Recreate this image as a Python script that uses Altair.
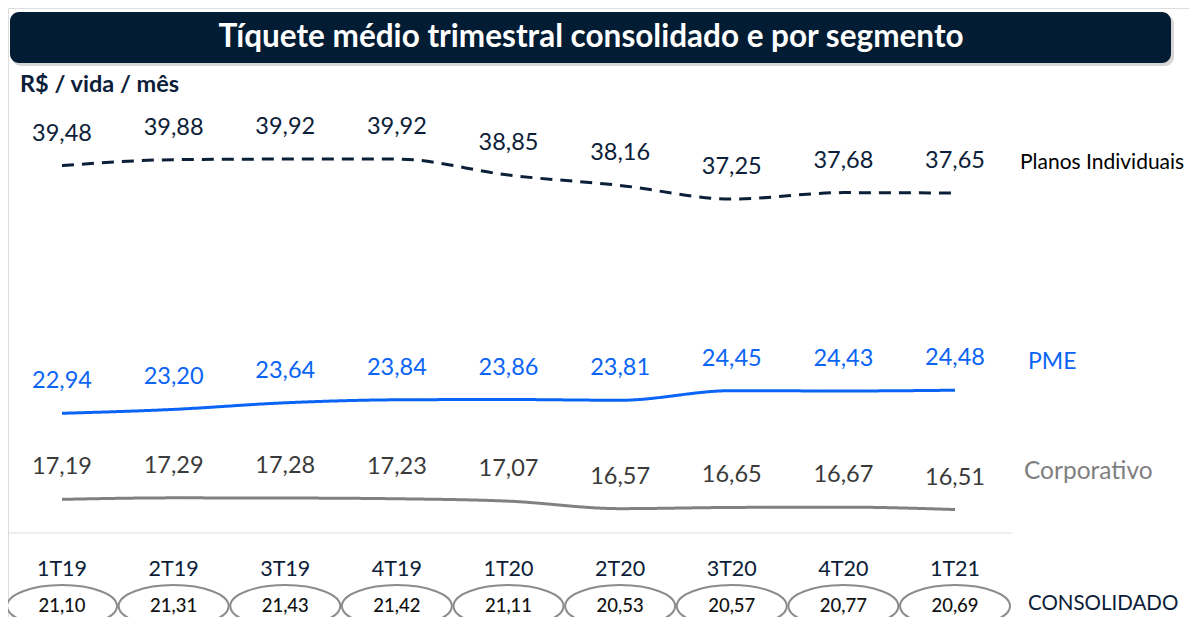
import altair as alt
import pandas as pd

quarters = ["1T19", "2T19", "3T19", "4T19", "1T20", "2T20", "3T20", "4T20", "1T21"]
planos = [39.48, 39.88, 39.92, 39.92, 38.85, 38.16, 37.25, 37.68, 37.65]
pme = [22.94, 23.20, 23.64, 23.84, 23.86, 23.81, 24.45, 24.43, 24.48]
corporativo = [17.19, 17.29, 17.28, 17.23, 17.07, 16.57, 16.65, 16.67, 16.51]
consolidado = [21.10, 21.31, 21.43, 21.42, 21.11, 20.53, 20.57, 20.77, 20.69]
series_names = ["Planos Individuais", "PME", "Corporativo"]

FONT = "Lato"
NAVY = "#0b2038"
BLUE = "#0a64f5"
GRAY = "#808080"


def br(v):
    return f"{v:.2f}".replace(".", ",")


rows = []
for name, vals in zip(series_names, [planos, pme, corporativo]):
    for i, v in enumerate(vals):
        rows.append({"i": i, "q": quarters[i], "serie": name, "v": v, "label": br(v)})
long_df = pd.DataFrame(rows)

cons_df = pd.DataFrame({"i": list(range(len(quarters))), "q": quarters,
                        "v": consolidado, "label": [br(v) for v in consolidado]})

one = pd.DataFrame({"a": [0]})

xenc = alt.X("i:Q", scale=alt.Scale(domain=[0, 8], range=[54, 947]), axis=None)
yenc = alt.Y("v:Q", scale=alt.Scale(domain=[10, 44], range=[599, 90], nice=False, zero=False), axis=None)

color_scale = alt.Scale(domain=series_names, range=[NAVY, BLUE, GRAY])

base_one = alt.Chart(one)

title_shadow = base_one.mark_rect(cornerRadius=9, color="#000000", opacity=0.16).encode(
    x=alt.value(4), x2=alt.value(1166), y=alt.value(7), y2=alt.value(58))
title_bar = base_one.mark_rect(cornerRadius=9, color="#021c33").encode(
    x=alt.value(2), x2=alt.value(1163), y=alt.value(4), y2=alt.value(55))
title_text = base_one.mark_text(
    text="Tíquete médio trimestral consolidado e por segmento", font=FONT, fontSize=31.5,
    fontWeight="bold", color="white", align="center", baseline="middle").encode(
    x=alt.value(583), y=alt.value(30))
unit_text = base_one.mark_text(
    text="R$ / vida / mês", font=FONT, fontSize=23.5, fontWeight="bold", color=NAVY,
    align="left", baseline="middle").encode(x=alt.value(12), y=alt.value(77))

sep = base_one.mark_rule(color="#dcdcdc", strokeWidth=1).encode(
    x=alt.value(-3), x2=alt.value(1004), y=alt.value(525))

lines = alt.Chart(long_df).mark_line(interpolate="monotone", strokeWidth=3).encode(
    x=xenc, y=yenc,
    color=alt.Color("serie:N", scale=color_scale, legend=None),
    strokeDash=alt.StrokeDash("serie:N", scale=alt.Scale(
        domain=series_names, range=[[12, 8], [1, 0], [1, 0]]), legend=None),
    detail="serie:N",
)


def value_labels(name, color):
    return alt.Chart(long_df).transform_filter(alt.datum.serie == name).mark_text(
        font=FONT, fontSize=23.5, dy=-32, baseline="middle", align="center", color=color
    ).encode(x=xenc, y=yenc, text="label:N")


vl_planos = value_labels("Planos Individuais", NAVY)
vl_pme = value_labels("PME", BLUE)
vl_corp = value_labels("Corporativo", "#3a3a3a")


def side_label(text, x, y, color, size, weight="normal"):
    return base_one.mark_text(text=text, font=FONT, fontSize=size, fontWeight=weight,
                              color=color, align="left", baseline="middle").encode(
        x=alt.value(x), y=alt.value(y))


lbl_planos = side_label("Planos Individuais", 1012, 155, "#000000", 21)
lbl_pme = side_label("PME", 1020, 354, BLUE, 23)
lbl_corp = side_label("Corporativo", 1016, 464, "#7f7f7f", 24.5)
lbl_cons = side_label("CONSOLIDADO", 1020, 596, NAVY, 20.5)

q_labels = alt.Chart(cons_df).mark_text(
    font=FONT, fontSize=21.5, color=NAVY, baseline="middle", align="center").encode(
    x=xenc, y=alt.value(562), text="q:N")

ellipse_path = ("M -1 0 C -1 -0.2099 -0.5523 -0.38 0 -0.38 "
                "C 0.5523 -0.38 1 -0.2099 1 0 "
                "C 1 0.2099 0.5523 0.38 0 0.38 "
                "C -0.5523 0.38 -1 0.2099 -1 0 Z")

ell_shadow = alt.Chart(cons_df).mark_point(
    shape=ellipse_path, size=12100, filled=True, color="#000000", opacity=0.12).encode(
    x=xenc, y=alt.value(600))
ellipses = alt.Chart(cons_df).mark_point(
    shape=ellipse_path, size=12100, filled=False, fill="white", fillOpacity=1,
    stroke="#8c8c8c", strokeWidth=2, opacity=1).encode(
    x=xenc, y=alt.value(598))
cons_text = alt.Chart(cons_df).mark_text(
    font=FONT, fontSize=18.5, color="#111111", fontWeight=500,
    baseline="middle", align="center").encode(
    x=xenc, y=alt.value(598), text="label:N")

chart = alt.layer(
    title_shadow, title_bar, title_text, unit_text, sep,
    lines, vl_planos, vl_pme, vl_corp, lbl_planos, lbl_pme, lbl_corp, lbl_cons,
    q_labels, ell_shadow, ellipses, cons_text,
).properties(
    width=1181, height=609, padding=0,
    autosize=alt.AutoSizeParams(type="none"),
).configure_view(stroke=None).configure(background="white")

chart.save("out.html", embed_options={"renderer": "svg", "actions": False})
